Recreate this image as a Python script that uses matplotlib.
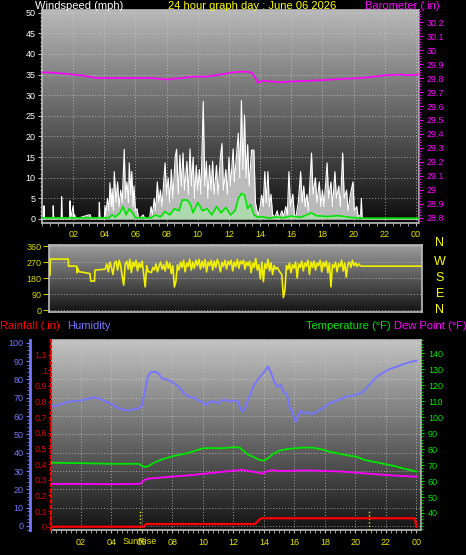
import numpy as np
import matplotlib
matplotlib.use("Agg")
import matplotlib.pyplot as plt
from matplotlib.ticker import MultipleLocator

plt.rcParams['font.family'] = ['Liberation Sans', 'DejaVu Sans']

# ---- data ----
gust_hours = [0.0, 0.1, 0.13, 0.16, 0.7, 0.72, 0.75, 1.23, 1.26, 1.3, 1.78, 1.8, 1.83, 2.0, 2.05, 2.1, 2.15,
              3.0, 3.1, 3.15, 3.65, 3.68, 3.72, 4.0, 4.04, 4.1, 4.2, 4.3, 4.36, 4.45, 4.5, 4.58, 4.64, 4.75,
              4.85, 4.95, 5.05, 5.15, 5.28, 5.36, 5.45, 5.55, 5.6, 5.7, 5.76, 5.85, 5.9, 6.0, 6.1, 6.2, 6.5,
              6.6, 6.9, 7.0, 7.1, 7.2, 7.3, 7.4, 7.5, 7.6, 7.7, 7.9, 8.0, 8.1, 8.2, 8.3, 8.4, 8.55, 8.64,
              8.75, 8.85, 8.95, 9.05, 9.15, 9.3, 9.4, 9.5, 9.6, 9.7, 9.8, 9.9, 10.0, 10.1, 10.2, 10.35,
              10.45, 10.55, 10.65, 10.75, 10.85, 10.95, 11.05, 11.2, 11.3, 11.45, 11.55, 11.65, 11.8, 11.9,
              12.0, 12.1, 12.27, 12.35, 12.5, 12.6, 12.7, 12.8, 12.9, 13.0, 13.1, 13.2, 13.3, 13.45, 13.6,
              13.7, 13.8, 13.9, 14.0, 14.1, 14.2, 14.3, 14.4, 14.5, 14.6, 14.7, 14.8, 14.95, 15.1, 15.2,
              15.4, 15.5, 15.65, 15.75, 15.85, 15.95, 16.1, 16.2, 16.3, 16.45, 16.6, 16.7, 16.8, 16.9,
              17.0, 17.1, 17.3, 17.4, 17.55, 17.65, 17.8, 17.9, 18.0, 18.1, 18.3, 18.4, 18.55, 18.65,
              18.8, 18.9, 19.05, 19.15, 19.3, 19.4, 19.55, 19.65, 19.8, 19.96, 20.05, 20.2, 20.3, 20.45,
              20.5, 20.55, 24.2]
gust_mph = [0, 0, 3.2, 0, 0, 3.2, 0, 0, 5.4, 0, 0, 4.4, 0, 3.2, 0.5, 1, 0,
            1, 1, 0, 0, 4, 0, 0, 3.2, 1, 5, 2, 8.8, 3, 7.4, 2, 11.5, 4,
            9, 3, 7, 4, 16.9, 5, 9, 4, 13.6, 6, 11.5, 3, 8, 2, 2.5, 0, 1,
            0, 0, 3, 1, 5, 2, 9, 4, 7, 3, 13.6, 6, 10, 4, 12, 5, 15, 16.9,
            6, 15.5, 8, 16, 7, 14, 6, 17, 8, 15, 5, 13, 7, 12, 6, 28.5,
            8, 14, 5, 13, 7, 14, 6, 13, 6, 15, 18.3, 7, 12, 6,
            15, 8, 17, 9, 16, 20.8, 10, 28.7, 12, 25.2, 10, 18, 8, 16.7, 16.7,
            4, 2, 1, 3, 5.8, 3, 11.5, 4, 11.5, 3, 6, 1, 0.5, 2, 0,
            2, 0.5, 3, 1, 11.5, 3, 6, 1, 0.5, 4, 11.5, 4, 8, 3,
            6, 2, 16, 6, 10, 4, 9, 3, 7, 3, 13.6, 5, 9, 3,
            11.5, 5, 8, 3, 16, 5, 7, 2, 6, 9, 2, 3, 0.5, 1,
            5, 0, 0]

avg_hours = [0, 4.3, 4.5, 4.7, 5.0, 5.2, 5.4, 5.6, 5.8, 6.0, 7.0, 7.3, 7.6, 7.9, 8.2, 8.5, 8.8, 9.0,
             9.3, 9.5, 9.7, 10.0, 10.3, 10.6, 10.9, 11.2, 11.5, 11.8, 12.1, 12.4, 12.6, 12.8, 13.0,
             13.2, 13.4, 13.6, 13.8, 14.2, 14.6, 15.0, 15.4, 16.0, 16.6, 17.3, 17.6, 18.3, 19.0,
             19.8, 20.5, 24.2]
avg_mph = [0.3, 0.3, 1, 0.5, 1.5, 3, 1, 2.5, 1.5, 0.3, 0.3, 1, 0.5, 1.8, 1, 2.5, 2, 4.6,
           4.6, 3.8, 1.5, 4, 2, 2.5, 1, 3, 1.5, 2.8, 1, 2, 5, 6.2, 5.8,
           2.5, 3.5, 1, 0.5, 0.5, 0.2, 0.5, 0.3, 0.7, 0.4, 1.5, 0.8, 0.6, 0.8,
           0.4, 0.2, 0.2]

baro_hours = [0, 0.5, 1.0, 1.5, 2, 2.5, 3, 3.5, 4, 5, 6, 7, 7.5, 8, 8.5, 9, 9.7, 10.5, 11.5, 12.2,
              12.7, 13.2, 13.5, 13.7, 13.85, 14.0, 14.2, 14.7, 15.3, 16, 17, 18, 18.8, 19.5, 20.5,
              21.3, 22.1, 23, 23.5, 24.2]
baro_inhg = [29.84, 29.84, 29.835, 29.83, 29.825, 29.82, 29.81, 29.80, 29.80, 29.80, 29.80, 29.80,
             29.795, 29.79, 29.795, 29.80, 29.81, 29.81, 29.825, 29.84, 29.845, 29.845, 29.835,
             29.80, 29.765, 29.775, 29.78, 29.775, 29.77, 29.775, 29.78, 29.785, 29.79, 29.795,
             29.80, 29.81, 29.82, 29.825, 29.82, 29.825]

dir_hours = [0.1, 0.12, 1.29, 1.3, 1.84, 1.85, 1.9, 2.0, 2.3, 2.7, 2.75, 3.0, 3.03, 3.4, 3.6,
             3.7, 3.8, 3.9, 4.0, 4.1, 4.2, 4.3, 4.4, 4.5, 4.6, 4.7, 4.8, 4.9, 5.0, 5.1, 5.2, 5.3,
             5.4, 5.5, 5.6, 5.7, 5.8, 5.9, 6.0, 6.1, 6.2, 6.3, 6.4, 6.5, 6.6, 6.7, 6.8, 6.9, 7.0,
             7.1, 7.2, 7.3, 7.4, 7.5, 7.6, 7.7, 7.8, 7.9, 8.0, 8.1, 8.2, 8.3, 8.4, 8.5, 8.6, 8.7,
             8.8, 8.9, 9.0, 9.1, 9.2, 9.3, 9.4, 9.5, 9.6, 9.7, 9.8, 9.9, 10.0, 10.1, 10.2, 10.3,
             10.4, 10.5, 10.6, 10.7, 10.8, 10.9, 11.0, 11.1, 11.2, 11.3, 11.4, 11.5, 11.6, 11.7,
             11.8, 11.9, 12.0, 12.1, 12.2, 12.3, 12.4, 12.5, 12.6, 12.7, 12.8, 12.9, 13.0, 13.1,
             13.2, 13.3, 13.4, 13.5, 13.6, 13.7, 13.8, 13.9, 14.0, 14.1, 14.2, 14.3, 14.4, 14.5,
             14.6, 14.7, 14.8, 14.9, 15.0, 15.1, 15.2, 15.3, 15.4, 15.5, 15.6, 15.7, 15.8, 15.9,
             16.0, 16.1, 16.2, 16.3, 16.4, 16.5, 16.6, 16.7, 16.8, 16.9, 17.0, 17.1, 17.2, 17.3,
             17.4, 17.5, 17.6, 17.7, 17.8, 17.9, 18.0, 18.1, 18.2, 18.3, 18.4, 18.5, 18.6, 18.7,
             18.8, 18.9, 19.0, 19.1, 19.2, 19.3, 19.4, 19.5, 19.6, 19.7, 19.8, 19.9, 20.0, 20.1,
             20.2, 20.3, 20.4, 20.6, 24.3]
dir_deg = [197, 287, 287, 247, 247, 210, 235, 215, 212, 205, 163, 163, 225, 228, 230,
           230, 260, 215, 270, 240, 200, 265, 275, 225, 280, 250, 190, 140, 260, 275, 230, 285,
           210, 270, 245, 280, 220, 265, 240, 275, 200, 130, 250, 215, 215, 210, 240, 225, 260,
           215, 245, 270, 230, 255, 220, 275, 235, 265, 205, 250, 130, 160, 255, 225, 270, 240,
           280, 215, 265, 245, 285, 225, 270, 235, 280, 250, 285, 230, 275, 240, 285, 215,
           270, 250, 280, 225, 275, 240, 285, 260, 215, 270, 245, 280, 230, 275,
           255, 280, 220, 270, 245, 285, 235, 275, 260, 280, 230, 270, 250, 275,
           210, 265, 240, 290, 225, 255, 175, 270, 160, 260, 235, 285, 220, 265,
           200, 250, 230, 240, 225, 210, 200, 70, 110, 250, 230, 265, 210, 255,
           235, 270, 180, 260, 240, 275, 220, 265, 245, 280, 200, 270, 240, 275,
           225, 265, 250, 280, 215, 270, 245, 275, 210, 265, 130, 255, 240, 270,
           215, 260, 245, 280, 220, 265, 185, 255, 270, 240, 280, 250, 265, 245,
           260, 250, 247, 247, 247]

hum_hours = [0.0, 0.5, 1.0, 1.5, 2.0, 2.5, 2.8, 3.2, 3.6, 4.0, 4.4, 4.8, 5.2, 5.5, 5.8, 6.0, 6.2,
             6.4, 6.6, 6.9, 7.1, 7.3, 7.6, 8.0, 8.4, 8.8, 9.1, 9.4, 9.7, 10.0, 10.2, 10.4, 10.7,
             11.0, 11.2, 11.5, 11.8, 12.0, 12.3, 12.45, 12.6, 12.8, 13.0, 13.3, 13.6, 14.0, 14.25,
             14.45, 14.7, 14.9, 15.1, 15.3, 15.5, 15.7, 15.85, 16.0, 16.1, 16.25, 16.4, 16.6,
             16.9, 17.1, 17.3, 17.6, 18.0, 18.3, 18.8, 19.4, 20.0, 20.5, 20.9, 21.4, 21.8, 22.2,
             22.7, 23.2, 23.6, 24.0]
hum_pct = [65, 66, 67.5, 68, 68.5, 69.5, 70.2, 69.5, 68, 66.5, 64.5, 63.3, 63, 63.8, 64.2, 66, 74,
           82, 84, 84.2, 83, 80.5, 80, 78.5, 76, 72, 70.5, 70, 68.5, 67.5, 66, 67.5, 68,
           67, 68.5, 68.7, 68, 68.5, 68, 64, 62.4, 65, 70, 76, 80, 84, 87,
           84, 78, 76, 77, 73, 72, 64, 63, 58, 57, 60, 63, 61.5,
           62, 61, 61.5, 63, 65, 67, 68.5, 70.5, 71.5, 73.3, 77, 81.5, 83.5, 85.5,
           86.9, 88.5, 89.5, 90.2]

temp_hours = [0, 1, 2, 3, 4, 5, 5.8, 6.0, 6.2, 6.4, 6.8, 7.3, 8.0, 8.5, 9.0, 9.5, 10.0, 10.5,
              11.0, 11.5, 12.0, 12.4, 12.7, 13.0, 13.3, 13.7, 14.0, 14.3, 14.6, 15.0, 15.5, 16.0,
              16.5, 17.2, 17.8, 18.3, 19.0, 19.5, 20.1, 20.6, 21.5, 22.5, 23.3, 24.0]
temp_f = [71.5, 71.3, 71.2, 71.0, 70.8, 70.8, 70.8, 69.5, 68.8, 69.2, 71.5, 73.5, 75.5, 76.5,
          77.5, 79, 80.5, 80.7, 80.5, 80.7, 81.2, 81, 78.5, 76.3, 75.2, 73.2, 72.8, 74.5, 77, 79,
          80, 80.5, 80.9, 80.9, 79.8, 78.4, 77, 76, 75.2, 73.2, 71.5, 69.5, 67.5, 66]

dew_hours = [0, 2, 4, 5.9, 6.1, 6.4, 7, 8, 9, 10, 11, 12, 12.6, 13.0, 13.5, 13.9, 14.2, 14.6, 15,
             16, 17, 18, 19, 20, 21, 22, 23, 24]
dew_f = [58.2, 58.2, 58, 58.3, 60.5, 61.5, 62, 62.8, 63.5, 64.5, 65.5, 66.5, 67, 66.2, 65.5,
         64.6, 66.2, 66.8, 66.3, 66.5, 66.7, 66.3, 66, 65.3, 64.5, 63.8, 63.2, 62.7]

rain_hours = [0, 6.15, 6.25, 13.4, 13.55, 13.7, 13.8, 23.9, 24.0]
rain_in = [0, 0, 0.017, 0.017, 0.03, 0.045, 0.054, 0.054, 0]

sunrise_hour = 5.87
sunset_hour = 20.88
hour_labels = ['02', '04', '06', '08', '10', '12', '14', '16', '18', '20', '22', '00']

YEL = '#e6e600'
MAG = '#ff00ff'
GRN = '#00e600'
BLU = '#7676ff'
RED = '#ff0000'

W, H = 466, 555
fig = plt.figure(figsize=(W / 100, H / 100), dpi=100, facecolor='black')


def rect(l, t, r, b):
    return [l / W, 1 - b / H, (r - l) / W, (b - t) / H]


def shade(ax, top, bottom):
    grad = np.linspace(top, bottom, 256).reshape(-1, 1)
    ax.imshow(grad, cmap='gray', vmin=0, vmax=1, extent=[0, 1, 0, 1],
              transform=ax.transAxes, aspect='auto', zorder=0)


def frame(ax):
    for s in ax.spines.values():
        s.set_color('#bdbdbd')
        s.set_linewidth(1.2)


grid_kw = dict(color='#d0d0d0', linestyle=(0, (1, 2)), linewidth=0.7, alpha=0.7)

# ---- wind panel ----
ax1 = fig.add_axes(rect(42, 10, 419, 223))
shade(ax1, 0.72, 0.05)
ax1.fill_between(gust_hours, gust_mph, color='#cccccc', alpha=0.9, lw=0, zorder=2)
ax1.plot(gust_hours, gust_mph, color='white', lw=0.8, zorder=3)
ax1.fill_between(avg_hours, avg_mph, color='#a8f0a8', alpha=0.6, lw=0, zorder=4)
ax1.plot(avg_hours, avg_mph, color=GRN, lw=1.2, zorder=5)
ax1.set_xlim(0, 24.2)
ax1.set_ylim(-0.97, 50.65)
ax1.set_xticks(range(2, 25, 2))
ax1.set_xticklabels(hour_labels)
ax1.set_yticks(range(0, 51, 5))
ax1.yaxis.set_minor_locator(MultipleLocator(1))
ax1.xaxis.set_minor_locator(MultipleLocator(0.5))
ax1.tick_params(axis='y', which='both', colors='#bdbdbd', labelcolor='white', labelsize=6.5,
                length=3, pad=1.5)
ax1.tick_params(axis='y', which='minor', length=1.5)
ax1.tick_params(axis='x', which='both', colors='#bdbdbd', labelcolor=YEL, labelsize=6.5,
                length=2, pad=3)
ax1.grid(True, **grid_kw)
ax1.set_axisbelow(False)
frame(ax1)

ax1b = ax1.twinx()
ax1b.plot(baro_hours, baro_inhg, color=MAG, lw=1.2)
ax1b.set_ylim(28.764, 30.286)
ax1b.set_yticks(np.arange(28.8, 30.25, 0.1))
ax1b.set_yticklabels(['28.8', '28.9', '29', '29.1', '29.2', '29.3', '29.4', '29.5', '29.6',
                      '29.7', '29.8', '29.9', '30', '30.1', '30.2'])
ax1b.yaxis.set_minor_locator(MultipleLocator(0.02))
ax1b.tick_params(axis='y', which='both', colors=MAG, labelsize=6.5, length=3, pad=2.5)
ax1b.tick_params(axis='y', which='minor', length=1.5)
ax1b.spines['right'].set_color(MAG)
ax1b.spines['right'].set_linestyle(':')
for s in ['left', 'top', 'bottom']:
    ax1b.spines[s].set_visible(False)

fig.text(35 / W, 1 - 6 / H, 'Windspeed (mph)', color='white', fontsize=8, va='center', ha='left')
fig.text(252 / W, 1 - 6 / H, '24 hour graph day : June 06 2026', color='#ffff00', fontsize=8,
         va='center', ha='center')
fig.text(440 / W, 1 - 6 / H, 'Barometer (.in)', color=MAG, fontsize=8, va='center', ha='right')

# ---- wind direction panel ----
ax2 = fig.add_axes(rect(48.5, 245, 421.5, 312))
shade(ax2, 0.62, 0.08)
ax2.plot(dir_hours, dir_deg, color='#f0f000', lw=1.2, zorder=3)
ax2.set_xlim(0, 24.3)
ax2.set_ylim(-11, 366)
ax2.set_yticks([0, 90, 180, 270, 360])
ax2.set_xticks(range(2, 25, 2))
ax2.tick_params(axis='x', which='both', length=0, labelbottom=False)
ax2.tick_params(axis='y', colors='#c8c800', labelcolor='#d8d800', labelsize=6.5, length=4, pad=1)
ax2.grid(True, axis='y', **grid_kw)
frame(ax2)
for lab, deg in zip(['N', 'W', 'S', 'E', 'N'], [375, 270, 180, 90, 0]):
    ax2.text((440 - 48.5) / 373, deg, lab, color='#ffff00', fontsize=9, ha='center',
             va='center', transform=ax2.get_yaxis_transform())

# ---- rain / humidity / temperature panel ----
ax3 = fig.add_axes(rect(50.5, 340, 421, 530))
shade(ax3, 0.76, 0.08)
ax3.plot(hum_hours, hum_pct, color=BLU, lw=1.4, zorder=3)
ax3.set_xlim(0, 24.3)
ax3.set_ylim(-2.2, 101.5)
ax3.set_yticks(range(0, 101, 10))
ax3.yaxis.set_minor_locator(MultipleLocator(2))
ax3.set_xticks(range(2, 25, 2))
ax3.set_xticklabels(hour_labels)
ax3.xaxis.set_minor_locator(MultipleLocator(1 / 3))
ax3.tick_params(axis='x', which='both', colors='#bdbdbd', labelcolor=YEL, labelsize=6.5,
                length=2, pad=3.5)
ax3.tick_params(axis='y', which='both', colors=BLU, labelsize=6.5, length=3, pad=1.5)
ax3.tick_params(axis='y', which='minor', length=2)
ax3.grid(True, **grid_kw)
frame(ax3)
ax3.spines['left'].set_position(('outward', 15))
ax3.spines['left'].set_color(BLU)
ax3.spines['left'].set_linewidth(2)

ax3r = ax3.twinx()
ax3r.plot(rain_hours, rain_in, color=RED, lw=1.6, zorder=6)
ax3r.set_ylim(-0.021, 1.193)
ax3r.set_yticks(np.arange(0, 1.15, 0.1))
ax3r.set_yticklabels(['0', '0.1', '0.2', '0.3', '0.4', '0.5', '0.6', '0.7', '0.8', '0.9', '1',
                      '1.1'])
ax3r.yaxis.set_minor_locator(MultipleLocator(0.02))
ax3r.yaxis.tick_left()
ax3r.tick_params(axis='y', which='both', colors=RED, labelcolor='#dd0000', labelsize=6.5,
                 length=2, pad=0.5)
ax3r.tick_params(axis='y', which='minor', length=1.2)
for s in ['right', 'top', 'bottom']:
    ax3r.spines[s].set_visible(False)
ax3r.spines['left'].set_color(RED)
ax3r.spines['left'].set_linestyle(':')
ax3r.spines['left'].set_linewidth(1.5)

ax3t = ax3.twinx()
ax3t.plot(temp_hours, temp_f, color=GRN, lw=1.3, zorder=4)
ax3t.plot(dew_hours, dew_f, color=MAG, lw=1.3, zorder=4)
ax3t.set_ylim(29.35, 148.3)
ax3t.set_yticks(range(40, 141, 10))
ax3t.yaxis.set_minor_locator(MultipleLocator(2))
ax3t.tick_params(axis='y', which='both', colors=GRN, labelsize=6.5, length=2.5, pad=2.5)
ax3t.tick_params(axis='y', which='minor', length=1.5)
for s in ['left', 'top', 'bottom']:
    ax3t.spines[s].set_visible(False)
ax3t.spines['right'].set_color(GRN)
ax3t.spines['right'].set_linestyle(':')

for hr in [sunrise_hour, sunset_hour]:
    ax3.axvline(hr, 0, 0.1, color='#e6e600', linestyle=(0, (1, 1.5)), lw=1, zorder=5)
fig.text(140 / W, 1 - 541 / H, 'SunRise', color=YEL, fontsize=6.5, ha='center', va='center')

fig.text(0, 1 - 326 / H, 'Rainfall (.in)', color=RED, fontsize=8, ha='left', va='center')
fig.text(67 / W, 1 - 326 / H, 'Humidity', color=BLU, fontsize=8, ha='left', va='center')
fig.text(391 / W, 1 - 326 / H, 'Temperature (°F)', color=GRN, fontsize=8, ha='right', va='center')
fig.text(394 / W, 1 - 326 / H, 'Dew Point (°F)', color=MAG, fontsize=8, ha='left', va='center')

fig.savefig('out.png', dpi=100, facecolor='black')
